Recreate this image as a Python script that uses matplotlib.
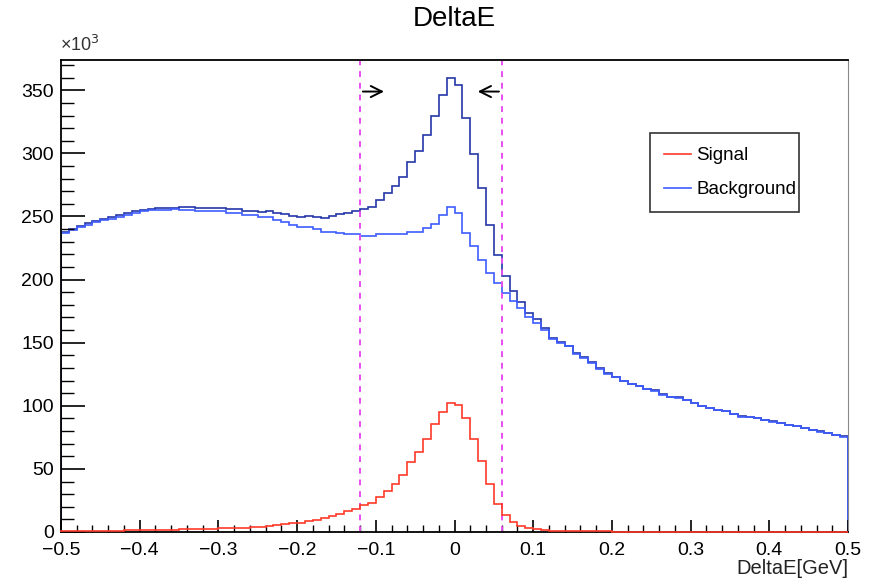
import numpy as np
import matplotlib
matplotlib.use("Agg")
import matplotlib.pyplot as plt
from matplotlib.ticker import MultipleLocator, FuncFormatter

# histogram range / binning (100 bins of 0.01 GeV)
x_lo, x_hi, n_bins = -0.5, 0.5, 100

# signal counts per bin (x10^3)
signal = [1.0, 1.0, 1.0, 1.0, 1.1, 1.1, 1.1, 1.1, 1.2, 1.2,
          1.2, 1.2, 1.3, 1.3, 1.3, 2.2, 2.3, 2.4, 2.5, 2.6,
          2.8, 3.2, 3.3, 3.5, 3.7, 3.9, 4.8, 5.5, 6.2, 6.8,
          7.5, 8.5, 9.8, 11.2, 12.7, 14.3, 16.4, 18.3, 21.0, 23.0,
          27.5, 32.5, 37.8, 45.0, 55.5, 63.7, 73.8, 85.7, 95.0, 102.5,
          100.8, 90.7, 73.5, 56.6, 37.8, 22.0, 13.5, 8.2, 4.8, 3.4,
          2.4, 1.6, 1.0, 0.8, 0.7, 0.6, 0.5, 0.5, 0.4, 0.4,
          0.3, 0.3, 0.3, 0.3, 0.3, 0.3, 0.3, 0.3, 0.3, 0.3,
          0.1, 0.1, 0.1, 0.1, 0.1, 0.1, 0.1, 0.1, 0.1, 0.1,
          0.1, 0.1, 0.1, 0.1, 0.1, 0.1, 0.1, 0.1, 0.1, 0.1]

# background counts per bin (x10^3)
background = [237.0, 239.0, 241.5, 243.5, 245.5, 247.0, 248.2, 249.8, 251.5, 253.0,
              254.0, 255.0, 255.5, 255.5, 255.8, 255.5, 255.0, 254.6, 254.3, 254.2,
              254.0, 253.0, 252.8, 251.2, 251.0, 249.5, 249.3, 247.6, 245.8, 243.6,
              242.0, 241.6, 239.7, 237.8, 237.5, 237.3, 236.5, 236.3, 234.6, 234.4,
              235.8, 236.0, 236.2, 236.4, 237.6, 238.0, 241.0, 244.2, 251.0, 257.4,
              253.0, 237.0, 226.4, 215.9, 205.3, 197.4, 189.4, 182.8, 177.5, 170.4,
              166.0, 160.3, 153.0, 149.8, 147.0, 141.3, 137.8, 133.9, 129.4, 125.4,
              122.8, 119.3, 117.2, 115.3, 113.2, 111.9, 108.7, 106.9, 106.3, 104.2,
              102.1, 100.0, 98.1, 96.8, 95.5, 93.7, 91.5, 91.0, 90.2, 88.9,
              87.5, 86.2, 84.9, 83.6, 82.3, 81.0, 79.6, 78.3, 77.0, 75.6]

# selection window
cut_lo, cut_hi = -0.12, 0.06

edges = np.linspace(x_lo, x_hi, n_bins + 1)
sig = np.array(signal)
bkg = np.array(background)
total = bkg + sig  # stacked

plt.rcParams['font.family'] = ['Liberation Sans', 'DejaVu Sans']

fig = plt.figure(figsize=(8.73, 5.79), dpi=100)
ax = fig.add_axes([61 / 873, 47 / 579, 787 / 873, 472 / 579])

ax.stairs(total, edges, color='#2536a8', lw=1.2)
ax.stairs(bkg, edges, color='#3d5cff', lw=1.2, label='Background')
ax.stairs(sig, edges, color='#ff3a28', lw=1.2, label='Signal', zorder=3, clip_on=False)

ymax = 374
ax.set_xlim(x_lo, x_hi)
ax.set_ylim(0, ymax)

for xc in (cut_lo, cut_hi):
    ax.axvline(xc, color='#e84ef0', lw=1.4, ls=(0, (3, 3)))

arrow_y = 349
ax.annotate('', xy=(-0.086, arrow_y), xytext=(cut_lo, arrow_y),
            arrowprops=dict(arrowstyle='->', color='black', lw=1.4, mutation_scale=20))
ax.annotate('', xy=(0.026, arrow_y), xytext=(cut_hi, arrow_y),
            arrowprops=dict(arrowstyle='->', color='black', lw=1.4, mutation_scale=20))

# ROOT-like axes
ax.xaxis.set_major_locator(MultipleLocator(0.1))
ax.xaxis.set_minor_locator(MultipleLocator(0.02))
ax.yaxis.set_major_locator(MultipleLocator(50))
ax.yaxis.set_minor_locator(MultipleLocator(10))
ax.xaxis.set_major_formatter(FuncFormatter(lambda v, p: '0' if abs(v) < 1e-9 else f'{v:.1f}'.replace('-', '\u2212')))
ax.yaxis.set_major_formatter(FuncFormatter(lambda v, p: f'{v:.0f}'))
ax.tick_params(axis='x', which='major', direction='in', length=9, width=1.2, labelsize=14, pad=7)
ax.tick_params(axis='x', which='minor', direction='in', length=5, width=1.0)
ax.tick_params(axis='y', which='major', direction='in', length=17, width=1.2, labelsize=14, pad=5)
ax.tick_params(axis='y', which='minor', direction='in', length=9, width=1.0)
for s in ('left', 'bottom', 'top'):
    ax.spines[s].set_linewidth(1.3)
ax.spines['right'].set_color('#888888')

fig.text(60 / 873, 1 - 45 / 579, '\u00d710$^{3}$', fontsize=13, ha='left', va='center', color='#333333')
fig.text(454 / 873, 1 - 19 / 579, 'DeltaE', fontsize=20, ha='center', va='center')
fig.text(848 / 873, 1 - 568 / 579, 'DeltaE[GeV]', fontsize=14.5, ha='right', va='center', color='#222222')

h, l = ax.get_legend_handles_labels()
leg = ax.legend(h[::-1], l[::-1], loc='upper left', bbox_to_anchor=(0.748, 0.8456, 0.19, 0.0),
                mode='expand', borderaxespad=0, fontsize=13.5, frameon=True, fancybox=False,
                edgecolor='black', handlelength=1.45, labelspacing=0.9, borderpad=0.75,
                handletextpad=0.3)
leg.get_frame().set_linewidth(1.2)

fig.savefig('out.png', dpi=100)
